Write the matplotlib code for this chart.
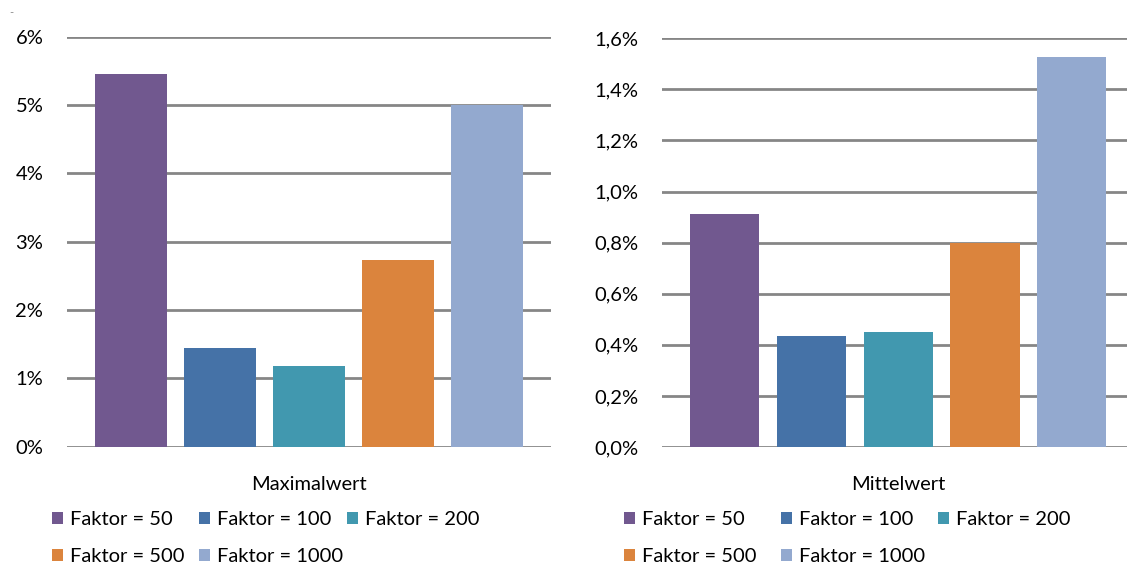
import matplotlib.pyplot as plt
from matplotlib.ticker import FuncFormatter, MultipleLocator

# Werte in Prozent
faktoren = ["Faktor = 50", "Faktor = 100", "Faktor = 200", "Faktor = 500", "Faktor = 1000"]
farben = ["#71588F", "#4572A7", "#4198AF", "#DB843D", "#93A9CF"]
maximalwert = [5.46, 1.45, 1.18, 2.73, 5.0]
mittelwert = [0.914, 0.434, 0.449, 0.80, 1.527]

plt.rcParams['font.family'] = ['Lato', 'DejaVu Sans']
plt.rcParams['font.size'] = 14.5

fig = plt.figure(figsize=(11.27, 5.66), dpi=100)

def balken(ax, werte, titel, ymax, schritt, fmt):
	x = range(len(werte))
	bars = ax.bar(x, werte, width=0.8, color=farben, zorder=2)
	ax.set_xlim(-0.72, 4.72)
	ax.set_ylim(0, ymax)
	ax.yaxis.set_major_locator(MultipleLocator(schritt))
	ax.yaxis.set_major_formatter(FuncFormatter(fmt))
	ax.grid(axis='y', color='#868686', linewidth=2, zorder=0)
	ax.set_axisbelow(True)
	for s in ax.spines.values():
		s.set_visible(False)
	ax.tick_params(axis='y', length=0, pad=17, labelcolor='#000000')
	ax.tick_params(axis='x', length=0, pad=21)
	ax.set_xticks([2], [titel])
	return bars

ax1 = fig.add_axes([0.0594, 0.2108, 0.4295, 0.7244])
bars1 = balken(ax1, maximalwert, "Maximalwert", 6, 1, lambda v, p: "%d%%" % round(v))

ax2 = fig.add_axes([0.5877, 0.2102, 0.4187, 0.7221])
bars2 = balken(ax2, mittelwert, "Mittelwert", 1.6, 0.2,
	lambda v, p: ("%.1f%%" % v).replace('.', ','))

# Legende in 3 Spalten mit festen Spaltenbreiten, zeilenweise gefüllt
for bars, spalten in [(bars1, [52, 199, 347]), (bars2, [624, 781, 938])]:
	for j, x0 in enumerate(spalten):
		idx = [i for i in (j, j + 3) if i < len(bars)]
		fig.legend([bars[i] for i in idx], [faktoren[i] for i in idx],
			loc='upper left', bbox_to_anchor=(x0 / 1127, 1 - 511 / 566),
			frameon=False, borderpad=0, borderaxespad=0, handlelength=0.55,
			handleheight=0.55, handletextpad=0.35, labelspacing=1.0)

fig.text(9 / 1127, 1 - 13 / 566, "-", color='#888888', fontsize=8, va='center')

fig.savefig('out.png', dpi=100)
